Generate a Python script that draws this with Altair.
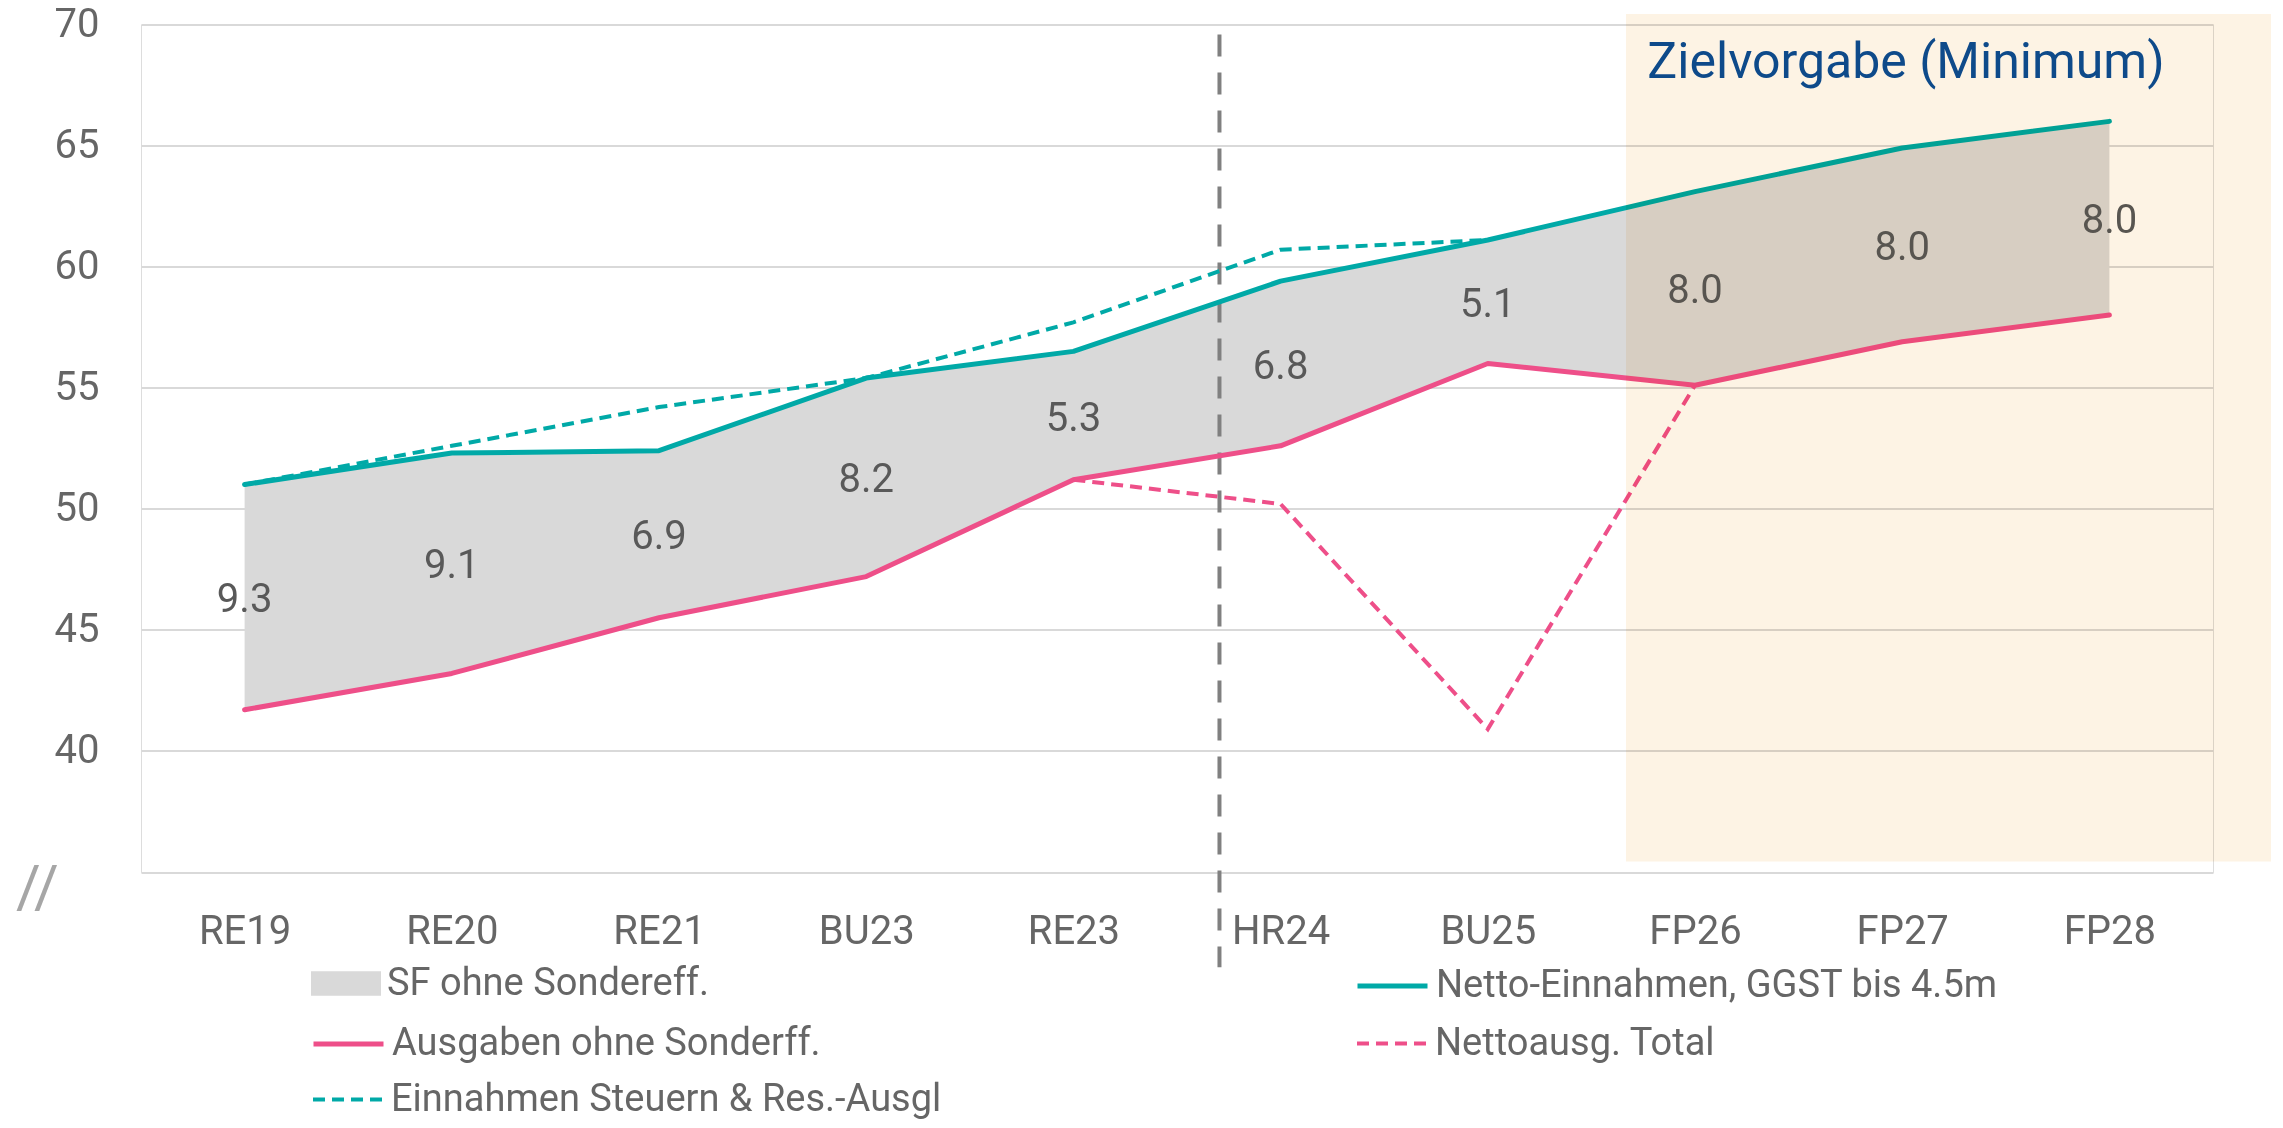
import json
import altair as alt
import pandas as pd

# ---------------- data ----------------
categories = ["RE19", "RE20", "RE21", "BU23", "RE23", "HR24", "BU25", "FP26", "FP27", "FP28"]
netto_einnahmen = [51.0, 52.3, 52.4, 55.4, 56.5, 59.4, 61.1, 63.1, 64.9, 66.0]
ausgaben = [41.7, 43.2, 45.5, 47.2, 51.2, 52.6, 56.0, 55.1, 56.9, 58.0]
einnahmen_steuern = [51.0, 52.6, 54.2, 55.4, 57.7, 60.7, 61.1, None, None, None]
nettoausg_total = [None, None, None, None, 51.2, 50.2, 40.9, 55.1, None, None]

series_names = [
    "SF ohne Sondereff.",
    "Netto-Einnahmen, GGST bis 4.5m",
    "Ausgaben ohne Sonderff.",
    "Nettoausg. Total",
    "Einnahmen Steuern & Res.-Ausgl",
]
series_colors = ["#D9D9D9", "#00A9A7", "#EE4F89", "#EE4F89", "#00A9A7"]

y_ticks = [35, 40, 45, 50, 55, 60, 65, 70]
target_title = "Zielvorgabe (Minimum)"
axis_break_text = "//"

# annotation placement (in data units of the chart's scales)
target_band = {"x0": 6.667, "x1": 9.78, "y0": 35.43, "y1": 70.43}
target_label = {"x": 6.77, "y": 67.8, "text": target_title}
divider = {"x": 4.705, "y_top": 69.59, "y_bottom": 31.07}
axis_break = {"x": -1.0, "y": 34.3, "text": axis_break_text}

# legend placement (pixels from the plot's top-left corner)
LEG_LEFT, LEG_RIGHT = 170, 1214
ROW_Y = [959, 1017, 1073]

# ---------------- tables ----------------
idx = list(range(len(categories)))
band_df = pd.DataFrame({
    "idx": idx,
    "cat": categories,
    "low": ausgaben,
    "high": netto_einnahmen,
    "series": series_names[0],
})


def series_df(values, name):
    return pd.DataFrame([{"idx": i, "value": v, "series": name}
                         for i, v in zip(idx, values) if v is not None])


FONT = "Roboto"
TXT = "#666666"
LEG_FONT = 38

x_scale = alt.Scale(domain=[-0.5, len(categories) - 0.5], nice=False, zero=False)
y_scale = alt.Scale(domain=[35, 70], nice=False, zero=False)

x_axis = alt.Axis(
    values=idx,
    labelExpr=json.dumps(categories) + "[datum.value]",
    grid=False, domain=False, ticks=False, tickSize=0,
    labelFontSize=40, labelColor=TXT, labelFont=FONT, labelPadding=39,
    labelFlush=False, labelOverlap=False,
)
y_axis = alt.Axis(
    values=y_ticks,
    labelExpr="datum.value == 35 ? '' : datum.label",
    grid=True, gridColor="#D9D9D9", gridWidth=2,
    domain=False, ticks=False, tickSize=0,
    labelFontSize=40, labelColor=TXT, labelFont=FONT, labelPadding=42,
)

SW = 70  # legend symbol width


def leg(x, row_center, dash=None, kind="line"):
    kw = dict(
        title=None, orient="none", legendX=x, legendY=row_center - SW / 2,
        padding=0, labelFontSize=LEG_FONT, labelFont=FONT, labelColor=TXT,
        labelLimit=0, labelOffset=6, symbolSize=SW * SW, symbolOpacity=1,
    )
    if kind == "rect":
        kw.update(symbolType="M-1,-0.35H1V0.35H-1Z", symbolStrokeWidth=0)
    else:
        kw.update(symbolType="stroke", symbolStrokeWidth=5 if dash is None else 4)
        if dash is not None:
            kw.update(symbolDash=dash)
    return alt.Legend(**kw)


band = alt.Chart(band_df).mark_area(opacity=1).encode(
    x=alt.X("idx:Q", scale=x_scale, axis=x_axis, title=None),
    y=alt.Y("low:Q", scale=y_scale, axis=y_axis, title=None),
    y2="high:Q",
    fill=alt.Fill("series:N",
                  scale=alt.Scale(domain=[series_names[0]], range=[series_colors[0]]),
                  legend=leg(LEG_LEFT, ROW_Y[0], kind="rect")),
)


def line_layer(values, i, legx, rowc, dash=None):
    mk = dict(strokeWidth=5, strokeCap="round", strokeJoin="round") if dash is None \
        else dict(strokeWidth=4, strokeDash=dash)
    return alt.Chart(series_df(values, series_names[i])).mark_line(**mk).encode(
        x=alt.X("idx:Q", scale=x_scale, title=None),
        y=alt.Y("value:Q", scale=y_scale, title=None),
        stroke=alt.Stroke("series:N",
                          scale=alt.Scale(domain=[series_names[i]], range=[series_colors[i]]),
                          legend=leg(legx, rowc, dash=dash)),
    )


DASH = [12, 7]
l_netto = line_layer(netto_einnahmen, 1, LEG_RIGHT, ROW_Y[0])
l_ausg = line_layer(ausgaben, 2, LEG_LEFT, ROW_Y[1])
l_total = line_layer(nettoausg_total, 3, LEG_RIGHT, ROW_Y[1], dash=DASH)
l_steuern = line_layer(einnahmen_steuern, 4, LEG_LEFT, ROW_Y[2], dash=DASH)

rule = alt.Chart(pd.DataFrame([divider])).mark_rule(
    color="#808080", strokeWidth=4, strokeDash=[22, 16]
).encode(
    x=alt.X("x:Q", scale=x_scale, title=None),
    y=alt.Y("y_top:Q", scale=y_scale, title=None),
    y2="y_bottom:Q",
)

labels = alt.Chart(band_df).transform_calculate(
    mid="(datum.low + datum.high) / 2",
    diff="format(datum.high - datum.low, '.1f')",
).mark_text(fontSize=40, color="#595959", font=FONT, align="center", baseline="middle", dy=3).encode(
    x=alt.X("idx:Q", scale=x_scale, title=None),
    y=alt.Y("mid:Q", scale=y_scale, title=None),
    text="diff:N",
)

target_rect = alt.Chart(pd.DataFrame([target_band])).mark_rect(
    color="#FDF3E4", blend="multiply"
).encode(
    x=alt.X("x0:Q", scale=x_scale, title=None),
    x2="x1:Q",
    y=alt.Y("y0:Q", scale=y_scale, title=None),
    y2="y1:Q",
)

target_text = alt.Chart(pd.DataFrame([target_label])).mark_text(
    align="left", baseline="alphabetic", fontSize=50, color="#0E4A8A", font=FONT
).encode(
    x=alt.X("x:Q", scale=x_scale, title=None),
    y=alt.Y("y:Q", scale=y_scale, title=None),
    text="text:N",
)

break_text = alt.Chart(pd.DataFrame([axis_break])).mark_text(
    align="center", baseline="middle", fontSize=60, color="#A6A6A6", font=FONT
).encode(
    x=alt.X("x:Q", scale=x_scale, title=None),
    y=alt.Y("y:Q", scale=y_scale, title=None),
    text="text:N",
)

chart = alt.layer(
    band, rule, l_ausg, l_netto, l_total, l_steuern, labels, target_rect, target_text, break_text
).resolve_scale(
    stroke="independent"
).resolve_legend(
    stroke="independent"
).properties(
    width=2072,
    height=847.5,
    autosize=alt.AutoSizeParams(type="none"),
    padding={"left": 133, "top": 16.5, "right": 60, "bottom": 248},
).configure_view(stroke=None).configure(font=FONT)

chart.save("out.html", embed_options={"renderer": "svg", "actions": False})
